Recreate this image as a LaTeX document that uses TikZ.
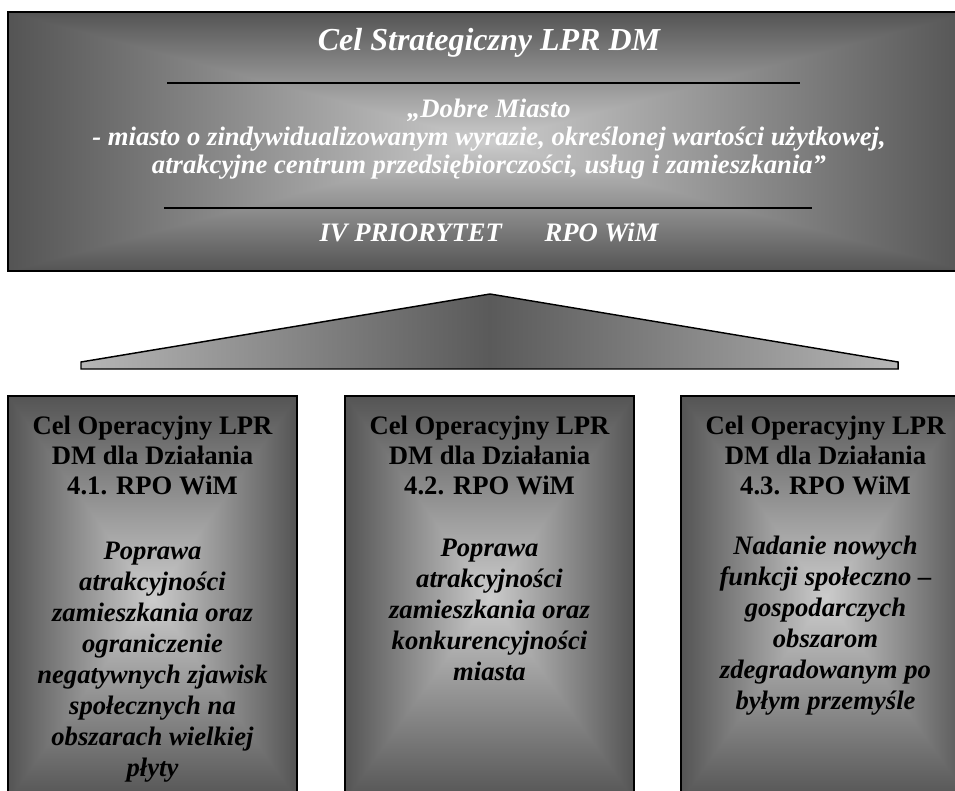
\documentclass[tikz,border=0pt]{standalone}
\usepackage{fontspec}
\setmainfont{Liberation Serif}
\usetikzlibrary{positioning,calc}
\definecolor{dmEdge}{RGB}{182,182,182}
\definecolor{dmMid}{RGB}{90,90,90}
\definecolor{dmInk}{RGB}{0,0,0}

% rectangular glow: light centre, dark rim
\pgfdeclarefunctionalshading{dmglow}{\pgfpoint{-50bp}{-50bp}}{\pgfpoint{50bp}{50bp}}{}{
  abs exch abs 2 copy lt {exch} if pop
  25 div dup 1 gt {pop 1} if
  -0.47 mul 0.80 add dup dup
}

\begin{document}
\begin{tikzpicture}[x=0.75pt, y=-0.75pt,
  glowbox/.style={draw=dmInk, line width=1.1pt, shading=dmglow},
  rulestroke/.style={dmInk, line width=1.6pt},
  toptxt/.style={text=white, align=center, inner sep=0pt, font=\fontsize{20}{21}\selectfont\bfseries\itshape},
  headtxt/.style={text=dmInk, align=center, inner sep=0pt, font=\fontsize{20}{22.5}\selectfont\bfseries},
  bodytxt/.style={text=dmInk, align=center, inner sep=0pt, font=\fontsize{20}{23.25}\selectfont\bfseries\itshape}]
  \useasboundingbox (0,0) rectangle (955,791);
  \clip (0,0) rectangle (955,791);

  % Strategic goal
  \path[glowbox] (8,12) rectangle (970,271);
  \node[toptxt, font=\fontsize{24}{26}\selectfont\bfseries\itshape] (title) at (489,43) {Cel Strategiczny LPR DM};
  \coordinate (r1a) at (167,83);
  \coordinate (r1b) at (800,83);
  \draw[rulestroke] (r1a) -- (r1b);
  \node[toptxt] (motto) at (489,139) {„Dobre Miasto\\
    - miasto o zindywidualizowanym wyrazie, określonej wartości użytkowej,\\
    atrakcyjne centrum przedsiębiorczości, usług i zamieszkania”};
  \coordinate (r2a) at (164,208);
  \coordinate (r2b) at (812,208);
  \draw[rulestroke] (r2a) -- (r2b);
  \node[toptxt] (prio) at (489,232) {IV PRIORYTET\hspace{1.6em}RPO WiM};

  % Wedge
  \coordinate (wl) at (81,369);
  \coordinate (wtop) at (490,294);
  \coordinate (wr) at (898,369);
  \shade[left color=dmEdge, right color=dmEdge, middle color=dmMid, draw=dmInk, line width=1.1pt]
    (wl) -- ++(0,-7) -- (wtop) -- ($(wr)+(0,-7)$) -- (wr) -- cycle;

  % Operational goals
  \path[glowbox] (8,396) rectangle (297,800);
  \node[headtxt] (head1) at (152.5,455) {Cel Operacyjny LPR\\DM dla Działania\\4.1. RPO WiM};
  \node[bodytxt] (body1) at (152.5,662) {Poprawa\\atrakcyjności\\zamieszkania oraz\\ograniczenie\\negatywnych zjawisk\\społecznych na\\obszarach wielkiej\\płyty};

  \path[glowbox] (345,396) rectangle (634,800);
  \node[headtxt] (head2) at (489.5,455) {Cel Operacyjny LPR\\DM dla Działania\\4.2. RPO WiM};
  \node[bodytxt] (body2) at (489.5,610) {Poprawa\\atrakcyjności\\zamieszkania oraz\\konkurencyjności\\miasta};

  \path[glowbox] (681,396) rectangle (970,800);
  \node[headtxt] (head3) at (825.5,455) {Cel Operacyjny LPR\\DM dla Działania\\4.3. RPO WiM};
  \node[bodytxt] (body3) at (825.5,626) {Nadanie nowych\\funkcji społeczno –\\gospodarczych\\obszarom\\zdegradowanym po\\byłym przemyśle};
\end{tikzpicture}
\end{document}
